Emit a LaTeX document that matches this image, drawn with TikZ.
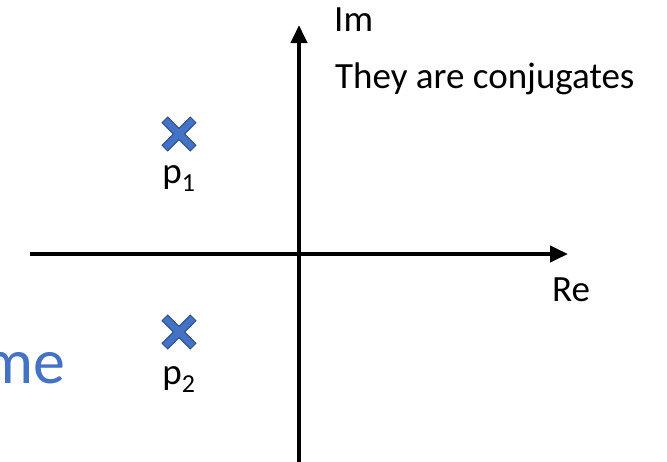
\documentclass[tikz,border=0pt]{standalone}
\usepackage{fontspec}
\setmainfont{Carlito}
\usetikzlibrary{arrows.meta}
\definecolor{poleblue}{HTML}{4472C4}
\definecolor{poleedge}{HTML}{2F528F}
\tikzset{axis/.style = {line width=4pt, -{Triangle[length=18pt,width=16pt]}}}
\tikzset{lbl/.style = {inner sep=0, anchor=base west, font=\fontsize{37}{41}\selectfont}}
\tikzset{pole/.pic = {
    \filldraw[fill=poleblue, draw=poleedge, line width=1pt, rotate=45]
      (4,4) -- (20,4) -- (20,-4) -- (4,-4) -- (4,-20) -- (-4,-20)
      -- (-4,-4) -- (-20,-4) -- (-20,4) -- (-4,4) -- (-4,20) -- (4,20) -- cycle;
    \coordinate (-c) at (0,0);
}}

\begin{document}
\begin{tikzpicture}[x=1pt,y=-1pt]
  \useasboundingbox (0,0) rectangle (667,461);
  \clip (0,0) rectangle (667,461);
  % axes
  \coordinate (west) at (30,254);
  \coordinate (east) at (568,254);
  \coordinate (south) at (299,470);
  \coordinate (north) at (299,25);
  \draw[axis] (west) -- (east);
  \draw[axis] (south) -- (north);
  \node[lbl] (im) at (334,31) {Im};
  \node[lbl] (re) at (552,301) {Re};
  \node[lbl] (conj) at (335,88) {They are conjugates};
  % poles
  \pic (x1) at (179,134) {pole};
  \pic (x2) at (179,332) {pole};
  \node[lbl, anchor=base] (p1) at (179,183) {p\textsubscript{1}};
  \node[lbl, anchor=base] (p2) at (179,384) {p\textsubscript{2}};
  \node[inner sep=0, anchor=base east, text=poleblue,
        font=\fontsize{64}{70}\selectfont] (me) at (66,383) {me};
\end{tikzpicture}
\end{document}
